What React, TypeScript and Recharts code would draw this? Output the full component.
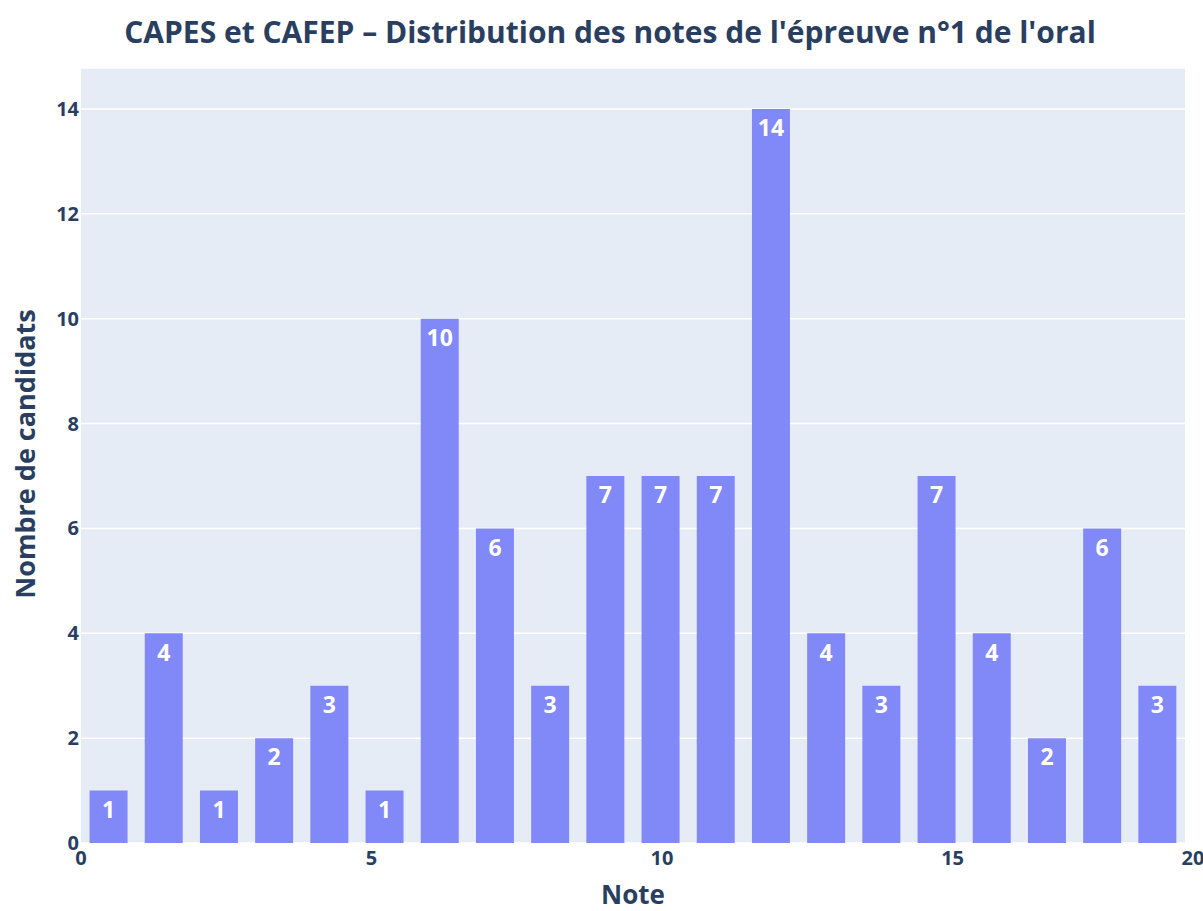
import React from 'react';
import { ComposedChart, Bar, XAxis, YAxis, CartesianGrid, LabelList, Label } from 'recharts';

const binStarts = [0, 1, 2, 3, 4, 5, 6, 7, 8, 9, 10, 11, 12, 13, 14, 15, 16, 17, 18, 19];
const counts = [1, 4, 1, 2, 3, 1, 10, 6, 3, 7, 7, 7, 14, 4, 3, 7, 4, 2, 6, 3];
const xTicks = [0, 5, 10, 15, 20];
const yTicks = [0, 2, 4, 6, 8, 10, 12, 14];

const title = "CAPES et CAFEP – Distribution des notes de l'épreuve n°1 de l'oral";
const xTitle = 'Note';
const yTitle = 'Nombre de candidats';

const data = binStarts.map((b, i) => ({ bin: b + 0.5, count: counts[i] }));

const FONT = '"Open Sans", sans-serif';
const TXT = '#2a3f5f';

export default function App() {
  return (
    <div style={{ position: 'absolute', left: 0, top: 0, width: 1203, height: 911, background: '#fff' }}>
      <div
        style={{
          position: 'absolute',
          left: 0,
          top: 12,
          width: 1220,
          textAlign: 'center',
          fontFamily: FONT,
          fontWeight: 700,
          fontSize: 30,
          color: TXT,
          lineHeight: '40px',
        }}
      >
        {title}
      </div>
      <div style={{ position: 'absolute', left: 0, top: 0 }}>
        <ComposedChart
          width={1203}
          height={911}
          data={data}
          margin={{ top: 68, right: 18, bottom: 0, left: 0 }}
          barCategoryGap="15.5%"
        >
          <CartesianGrid stroke="#ffffff" strokeWidth={1.5} vertical={false} fill="#e5ecf6" />
          <XAxis xAxisId="cat" dataKey="bin" type="category" hide height={0} />
          <XAxis
            xAxisId="num"
            type="number"
            domain={[0, 20]}
            ticks={xTicks}
            allowDataOverflow
            axisLine={false}
            tickLine={false}
            tickSize={0}
            tickMargin={8}
            height={68}
            tick={{ fill: TXT, fontFamily: FONT, fontWeight: 700, fontSize: 20 }}
          >
            <Label
              content={() => (
                <text x={633} y={894} textAnchor="middle" dominantBaseline="central" fill={TXT} fontFamily={FONT} fontWeight={700} fontSize={26}>
                  {xTitle}
                </text>
              )}
            />
          </XAxis>
          <YAxis
            type="number"
            domain={[0, 14.78]}
            ticks={yTicks}
            allowDataOverflow
            axisLine={false}
            tickLine={false}
            tickSize={0}
            tickMargin={2}
            width={81}
            tick={{ fill: TXT, fontFamily: FONT, fontWeight: 700, fontSize: 20 }}
          >
            <Label
              content={() => (
                <text
                  x={24}
                  y={454}
                  textAnchor="middle"
                  dominantBaseline="central"
                  transform="rotate(-90 24 454)"
                  fill={TXT}
                  fontFamily={FONT}
                  fontWeight={700}
                  fontSize={27}
                >
                  {yTitle}
                </text>
              )}
            />
          </YAxis>
          <Bar xAxisId="cat" dataKey="count" fill="#8189f8" isAnimationActive={false}>
            <LabelList
              dataKey="count"
              position="insideTop"
              offset={11}
              fill="#ffffff"
              fontFamily={FONT}
              fontWeight={700}
              fontSize={23}
            />
          </Bar>
        </ComposedChart>
      </div>
    </div>
  );
}
